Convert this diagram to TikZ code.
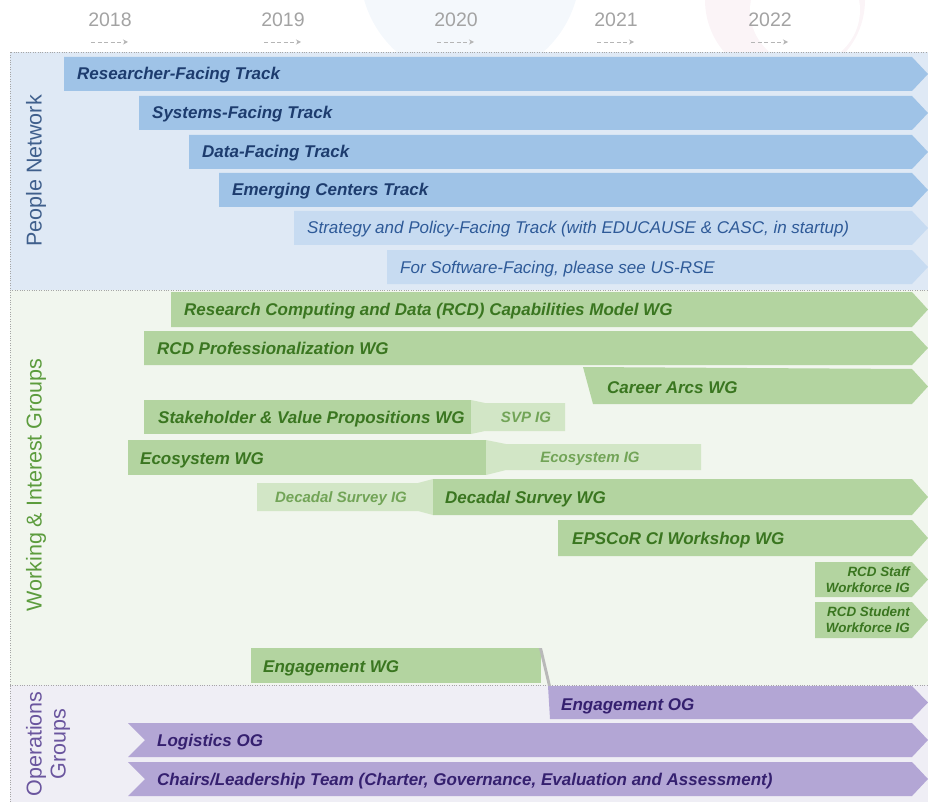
\documentclass[tikz,border=0pt]{standalone}
\usepackage{fontspec}
\setmainfont{Liberation Sans}
\usetikzlibrary{arrows.meta}

\definecolor{peoplebg}{HTML}{DFE9F5}
\definecolor{workbg}{HTML}{F1F6EE}
\definecolor{opsbg}{HTML}{EFEEF5}
\definecolor{trackblue}{HTML}{9FC3E7}
\definecolor{tracklight}{HTML}{C7DBF1}
\definecolor{bluetxt}{HTML}{1D3C6E}
\definecolor{bluetxtlight}{HTML}{2E5A98}
\definecolor{wggreen}{HTML}{B3D4A0}
\definecolor{iggreen}{HTML}{D2E6C6}
\definecolor{greentxt}{HTML}{3A7620}
\definecolor{igtxt}{HTML}{72A457}
\definecolor{ogpurple}{HTML}{B3A6D5}
\definecolor{purpletxt}{HTML}{35206F}
\definecolor{yeargray}{HTML}{A3A3A3}
\definecolor{peoplelbl}{HTML}{3F5F8C}
\definecolor{worklbl}{HTML}{5C9C3D}
\definecolor{opslbl}{HTML}{6A559E}
\definecolor{decoblue}{HTML}{F4F8FC}
\definecolor{decopink}{HTML}{FBF4F7}

% colour, left x, top y, bottom y
\newcommand{\chevbar}[4]{%
  \fill[#1] (#2,#3) -- (912,#3) -- (928,{(#3+#4)/2}) -- (912,#4) -- (#2,#4) -- cycle;}

\tikzset{
  bartxt/.style={anchor=base west, inner sep=0pt, font=\fontsize{17}{20}\selectfont\bfseries\itshape},
  igtext/.style={anchor=base, inner sep=0pt, text=igtxt, font=\fontsize{15}{18}\selectfont\bfseries\itshape},
  yearlbl/.style={text=yeargray, font=\fontsize{19.5}{22}\selectfont},
  yeararrow/.style={draw=yeargray!80, line width=0.8pt, dash pattern=on 4pt off 2.5pt,
    -{Stealth[length=5pt, width=5pt, open]}},
  grouplbl/.style={rotate=90, font=\fontsize{21.5}{24}\selectfont},
  panelline/.style={gray!70, line width=0.6pt, dash pattern=on 0.8pt off 1.6pt},
}

\begin{document}
\begin{tikzpicture}[x=1pt,y=-1pt]
\useasboundingbox (0,0) rectangle (928,802);

% Faint background decoration
\begin{scope}
\clip (0,0) rectangle (928,52);
\fill[decoblue] (470,-30) circle (110);
\fill[decopink] (785,0) circle (80);
\fill[white] (805,10) circle (55);
\end{scope}

% Years
\foreach \yr/\xc in {2018/110, 2019/283, 2020/456, 2021/616, 2022/770}{
  \node[yearlbl] (y\yr) at (\xc,20) {\yr};
  \draw[yeararrow] (\xc-19,42) -- (\xc+18,42);
}

% Panels
\fill[peoplebg] (10,52) rectangle (928,290);
\fill[workbg] (10,290) rectangle (928,685);
\fill[opsbg] (10,685) rectangle (928,802);
\draw[panelline] (10,802) -- (10,52) -- (928,52);
\draw[panelline] (10,290) -- (928,290);
\draw[panelline] (10,685) -- (928,685);

\node[grouplbl, text=peoplelbl] (pnet) at (36,171) {People Network};
\node[grouplbl, text=worklbl] (wig) at (36,485) {Working \& Interest Groups};
\node[grouplbl, text=opslbl, align=center] (ops) at (48,744) {Operations\\Groups};

% People network tracks
\foreach \n/\xs/\yt/\txt in {res/64/57/Researcher-Facing Track, sys/139/96/Systems-Facing Track,
    dat/189/135/Data-Facing Track, emc/219/173/Emerging Centers Track}{
  \chevbar{trackblue}{\xs}{\yt}{\yt+34}
  \node[bartxt, text=bluetxt] (\n) at (\xs+13,\yt+23) {\txt};
}
\chevbar{tracklight}{294}{211}{245}
\node[bartxt, font=\fontsize{17}{20}\selectfont\itshape, text=bluetxtlight] (spt) at (307,234)
  {Strategy and Policy-Facing Track (with EDUCAUSE \& CASC, in startup)};
\chevbar{tracklight}{387}{250}{284}
\node[bartxt, font=\fontsize{17}{20}\selectfont\itshape, text=bluetxtlight] (sft) at (400,273)
  {For Software-Facing, please see US-RSE};

% Working groups
\chevbar{wggreen}{171}{292}{327}
\node[bartxt, text=greentxt] (cap) at (184,315) {Research Computing and Data (RCD) Capabilities Model WG};
\chevbar{wggreen}{144}{331}{365}
\node[bartxt, text=greentxt] (prof) at (157,354) {RCD Professionalization WG};
\fill[wggreen] (583,367) -- (912,369) -- (928,386.5) -- (912,404) -- (593,404) -- cycle;
\node[bartxt, text=greentxt] (arcs) at (607,393) {Career Arcs WG};

\fill[wggreen] (144,400) rectangle (471,434);
\node[bartxt, text=greentxt] (svpwg) at (158,423) {Stakeholder \& Value Propositions WG};
\fill[iggreen] (471,400) -- (485,403) -- (565,403) -- (565,431) -- (485,431) -- (471,434) -- cycle;
\node[igtext] (svpig) at (526,422) {SVP IG};

\fill[wggreen] (128,440) rectangle (486,475);
\node[bartxt, text=greentxt] (ecowg) at (140,464) {Ecosystem WG};
\fill[iggreen] (486,440) -- (506,444) -- (701,444) -- (701,470) -- (506,470) -- (486,475) -- cycle;
\node[igtext] (ecoig) at (590,462) {Ecosystem IG};

\fill[iggreen] (257,483) -- (418,483) -- (433,479) -- (433,515) -- (418,511) -- (257,511) -- cycle;
\node[igtext] (decig) at (341,502) {Decadal Survey IG};
\chevbar{wggreen}{433}{479}{515}
\node[bartxt, text=greentxt] (decwg) at (445,503) {Decadal Survey WG};

\chevbar{wggreen}{558}{520}{556}
\node[bartxt, text=greentxt] (eps) at (572,544) {EPSCoR CI Workshop WG};

\chevbar{wggreen}{815}{562}{597}
\node[anchor=east, inner sep=0pt, align=right, text=greentxt,
  font=\fontsize{13.4}{16}\selectfont\bfseries\itshape] (staff) at (910,580) {RCD Staff\\Workforce IG};
\chevbar{wggreen}{815}{602}{638}
\node[anchor=east, inner sep=0pt, align=right, text=greentxt,
  font=\fontsize{13.4}{16}\selectfont\bfseries\itshape] (stud) at (910,620) {RCD Student\\Workforce IG};

\fill[wggreen] (251,648) rectangle (541,683);
\node[bartxt, text=greentxt] (engwg) at (263,672) {Engagement WG};

% Operations groups
\fill[gray!55] (539,648) -- (542,648) -- (551,686) -- (548,686) -- cycle;
\fill[ogpurple] (548,686) -- (912,686) -- (928,702.5) -- (912,719) -- (550,719) -- cycle;
\node[bartxt, text=purpletxt] (engog) at (561,710) {Engagement OG};
\foreach \n/\yt/\txt in {log/723/Logistics OG,
    chr/762/{Chairs/Leadership Team (Charter, Governance, Evaluation and Assessment)}}{
  \fill[ogpurple] (128,\yt) -- (912,\yt) -- (928,\yt+17) -- (912,\yt+34) -- (128,\yt+34) -- (145,\yt+17) -- cycle;
  \node[bartxt, text=purpletxt] (\n) at (157,\yt+23) {\txt};
}
\end{tikzpicture}
\end{document}
